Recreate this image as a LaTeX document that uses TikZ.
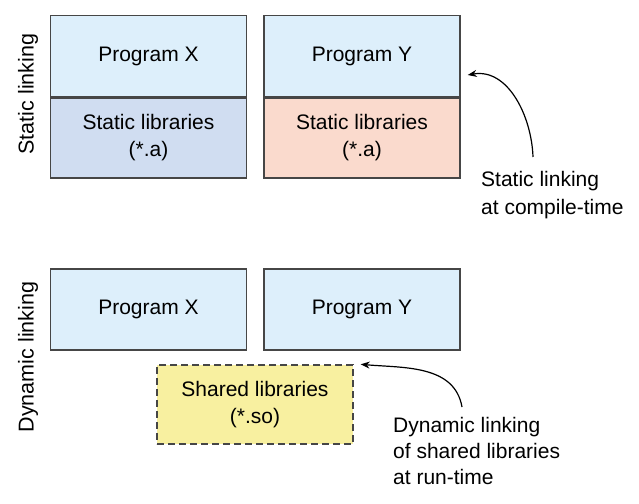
\documentclass[tikz,border=0pt]{standalone}
\usepackage{fontspec}
\setmainfont{Liberation Sans}
\usetikzlibrary{arrows.meta,positioning}
\definecolor{progblue}{RGB}{221,239,251}
\definecolor{libblue}{RGB}{208,221,241}
\definecolor{libpink}{RGB}{250,218,205}
\definecolor{shyellow}{RGB}{248,240,160}
\definecolor{edgegray}{RGB}{70,70,70}
\tikzset{
  box/.style={draw=edgegray, line width=1.4pt, minimum width=196pt, align=center,
              inner sep=0pt, font=\fontsize{21}{27}\selectfont},
  progbox/.style={box, fill=progblue, minimum height=81pt},
  libbox/.style={box, minimum height=80pt},
  sharedbox/.style={box, fill=shyellow, dashed, dash pattern=on 7pt off 4pt, minimum height=79pt},
  sidelabel/.style={rotate=90, font=\fontsize{21.5}{24}\selectfont},
  note/.style={align=left, anchor=north west, inner sep=0pt, font=\fontsize{21}{26}\selectfont},
  arrow/.style={-{Stealth[length=9pt,width=7pt]}, line width=1.2pt},
}
\begin{document}
\begin{tikzpicture}[x=1pt,y=1pt]
\useasboundingbox (0,0) rectangle (639,503);

% ================= static linking =================
\node[sidelabel] (statlbl) at (28,409) {Static linking};
\node[progbox] (progX) at (148.5,447) {Program X};
\node[libbox, fill=libblue, anchor=north] (libX) at (progX.south) {Static libraries\\(*.a)};
\node[progbox] (progY) at (362,447) {Program Y};
\node[libbox, fill=libpink, anchor=north] (libY) at (progY.south) {Static libraries\\(*.a)};

\node[note, font=\fontsize{21}{28}\selectfont] (statnote) at (481,332) {Static linking\\at compile-time};
\draw[arrow] ([xshift=52pt,yshift=14pt]statnote.north west) to[out=92,in=10]
  ([xshift=7pt,yshift=-19pt]progY.east);

% ================= dynamic linking =================
\node[sidelabel] (dynlbl) at (28,146) {Dynamic linking};
\node[progbox] (dprogX) at (148.5,193.5) {Program X};
\node[progbox] (dprogY) at (362,193.5) {Program Y};
\node[sharedbox] (shared) at (255,98.5) {Shared libraries\\(*.so)};

\node[note] (dynnote) at (393,86) {Dynamic linking\\of shared libraries\\at run-time};
\draw[arrow] ([xshift=69pt,yshift=10pt]dynnote.north west) to[out=100,in=-5]
  ([xshift=7pt]shared.north east);
\end{tikzpicture}
\end{document}
